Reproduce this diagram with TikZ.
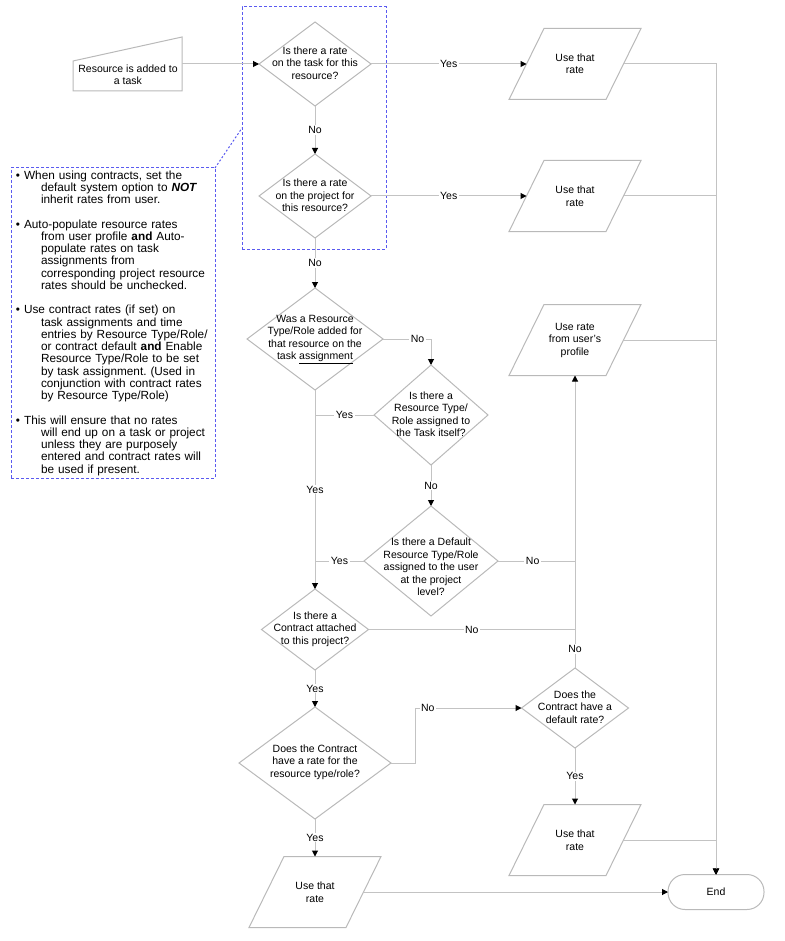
\documentclass[tikz,border=0pt]{standalone}
\usepackage{fontspec}
\setmainfont{Liberation Sans}
\usetikzlibrary{shapes.geometric,arrows.meta}
\definecolor{ln}{RGB}{195,195,195}
\definecolor{bx}{RGB}{185,185,185}
\definecolor{nb}{RGB}{90,90,240}
\frenchspacing
\newcommand\drawpara[1]{\draw[draw=bx,line width=1pt] ([xshift=-17.5pt]#1.south west) -- ([xshift=-17.5pt]#1.south east) -- ([xshift=17.5pt]#1.north east) -- ([xshift=17.5pt]#1.north west) -- cycle;}
\begin{document}
\begin{tikzpicture}[x=1pt,y=-1pt,
  every node/.style={inner sep=0pt, outer sep=0pt},
  txt/.style={font=\fontsize{10.5}{12.5}\selectfont, align=center},
  dia/.style={draw=bx, line width=1pt, diamond},
  pbox/.style={draw=none, minimum width=97pt, minimum height=71pt, txt},
  conn/.style={draw=ln, line width=1pt},
  arr/.style={conn, -{Triangle[length=6pt,width=6pt,color=black]}},
  lab/.style={fill=white, inner xsep=1.5pt, inner ysep=1pt, font=\fontsize{10.5}{12.5}\selectfont},
  nbx/.style={draw=nb, line width=1pt, dash pattern=on 3pt off 2pt},
]
\useasboundingbox (0,0) rectangle (784,941);

% start
\node[minimum width=109pt, minimum height=54pt] (r0) at (127.5,64) {};
\draw[draw=bx,line width=1pt] (r0.south west) -- (r0.south east) -- (r0.north east) -- ([yshift=-24pt]r0.north west) -- cycle;
\node[txt] (r0t) at (128,75) {Resource is added to\\a task};

% diamonds
\node[dia, minimum width=112pt, minimum height=84pt] (d1) at (315,64) {};
\node[txt] (d1t) at (315,63) {Is there a rate\\on the task for this\\resource?};
\node[dia, minimum width=112pt, minimum height=84pt] (d2) at (315,196) {};
\node[txt] (d2t) at (315,195.5) {Is there a rate\\on the project for\\this resource?};
\node[dia, minimum width=136pt, minimum height=102pt] (d3) at (315,339) {};
\node[txt] (d3t) at (315,339.5) {Was a Resource\\Type/Role added for\\that resource on the\\task \underline{assignment}};
\node[dia, minimum width=114pt, minimum height=100pt] (d4) at (431,415) {};
\node[txt] (d4t) at (431,414) {Is there a\\Resource Type/\\Role assigned to\\the Task itself?};
\node[dia, minimum width=134pt, minimum height=110pt] (d5) at (431,561) {};
\node[txt] (d5t) at (431,567) {Is there a Default\\Resource Type/Role\\assigned to the user\\at the project\\level?};
\node[dia, minimum width=107pt, minimum height=81pt] (d6) at (315,629.5) {};
\node[txt] (d6t) at (315,629) {Is there a\\Contract attached\\to this project?};
\node[dia, minimum width=152pt, minimum height=112pt] (d7) at (315,763) {};
\node[txt] (d7t) at (315,762) {Does the Contract\\have a rate for the\\resource type/role?};
\node[dia, minimum width=107pt, minimum height=80pt] (d8) at (575,708) {};
\node[txt] (d8t) at (575,707) {Does the\\Contract have a\\default rate?};

% parallelograms
\node[pbox] (p1) at (575,64) {Use that\\rate};
\drawpara{p1}
\node[pbox] (p2) at (575,196) {Use that\\rate};
\drawpara{p2}
\node[pbox] (p3) at (575,340) {Use rate\\from user's\\profile};
\drawpara{p3}
\node[pbox] (p6) at (575,840) {Use that\\rate};
\drawpara{p6}
\node[pbox] (p5) at (315,892) {Use that\\rate};
\drawpara{p5}

% end
\node[draw=bx, line width=1pt, rounded corners=17pt, minimum width=96pt, minimum height=35pt, txt] (end) at (716,892) {End};

% group box and note
\node[nbx, minimum width=144pt, minimum height=242pt] (grp) at (314,128) {};
\node[nbx, minimum width=204pt, minimum height=310pt, text width=194pt, inner xsep=5pt, align=left, font=\fontsize{11.8}{12.25}\selectfont] (note) at (113,323) {%
\textbullet\ When using contracts, set the\\
\hspace*{25pt}default system option to \textbf{\textit{NOT}}\\
\hspace*{25pt}inherit rates from user.\\[12.25pt]
\textbullet\ Auto-populate resource rates\\
\hspace*{25pt}from user profile \textbf{and} Auto-\\
\hspace*{25pt}populate rates on task\\
\hspace*{25pt}assignments from\\
\hspace*{25pt}corresponding project resource\\
\hspace*{25pt}rates should be unchecked.\\[12.25pt]
\textbullet\ Use contract rates (if set) on\\
\hspace*{25pt}task assignments and time\\
\hspace*{25pt}entries by Resource Type/Role/\\
\hspace*{25pt}or contract default \textbf{and} Enable\\
\hspace*{25pt}Resource Type/Role to be set\\
\hspace*{25pt}by task assignment. (Used in\\
\hspace*{25pt}conjunction with contract rates\\
\hspace*{25pt}by Resource Type/Role)\\[12.25pt]
\textbullet\ This will ensure that no rates\\
\hspace*{25pt}will end up on a task or project\\
\hspace*{25pt}unless they are purposely\\
\hspace*{25pt}entered and contract rates will\\
\hspace*{25pt}be used if present.};
\draw[draw=nb, line width=1pt, dash pattern=on 2pt off 2pt] (note.north east) -- (grp.west);

% connectors
\coordinate (j1) at (315,415);
\coordinate (j2) at (315,561);
\coordinate (j3) at (575,561);
\coordinate (j4) at (575,629.5);
\draw[arr] (r0.east) -- (d1.west);
\draw[arr] (d1.east) -- node[lab]{Yes} (p1.west);
\draw[arr] (d1.south) -- node[lab]{No} (d2.north);
\draw[arr] (d2.east) -- node[lab]{Yes} (p2.west);
\draw[arr] (d2.south) -- node[lab]{No} (d3.north);
\draw[arr] (d3.east) -| node[lab,pos=0.36]{No} (d4.north);
\draw[arr] (d3.south) -- node[lab]{Yes} (d6.north);
\draw[conn] (d4.west) -- node[lab]{Yes} (j1);
\draw[arr] (d4.south) -- node[lab]{No} (d5.north);
\draw[conn] (d5.west) -- node[lab]{Yes} (j2);
\draw[conn] (d5.east) -- node[lab,pos=0.45]{No} (j3);
\draw[conn] (d6.east) -- node[lab]{No} (j4);
\draw[arr] (d8.north) -- node[lab,pos=0.065]{No} (p3.south);
\draw[arr] (d6.south) -- node[lab]{Yes} (d7.north);
\draw[arr] (d7.east) -- ++(24,0) |- node[lab,pos=0.56]{No} (d8.west);
\draw[arr] (d8.south) -- node[lab]{Yes} (p6.north);
\draw[arr] (d7.south) -- node[lab]{Yes} (p5.north);
\draw[arr] (p5.east) -- (end.west);
\draw[arr] (p1.east) -| (end.north);
\draw[arr] (p2.east) -| (end.north);
\draw[arr] (p3.east) -| (end.north);
\draw[arr] (p6.east) -| (end.north);
\end{tikzpicture}
\end{document}
